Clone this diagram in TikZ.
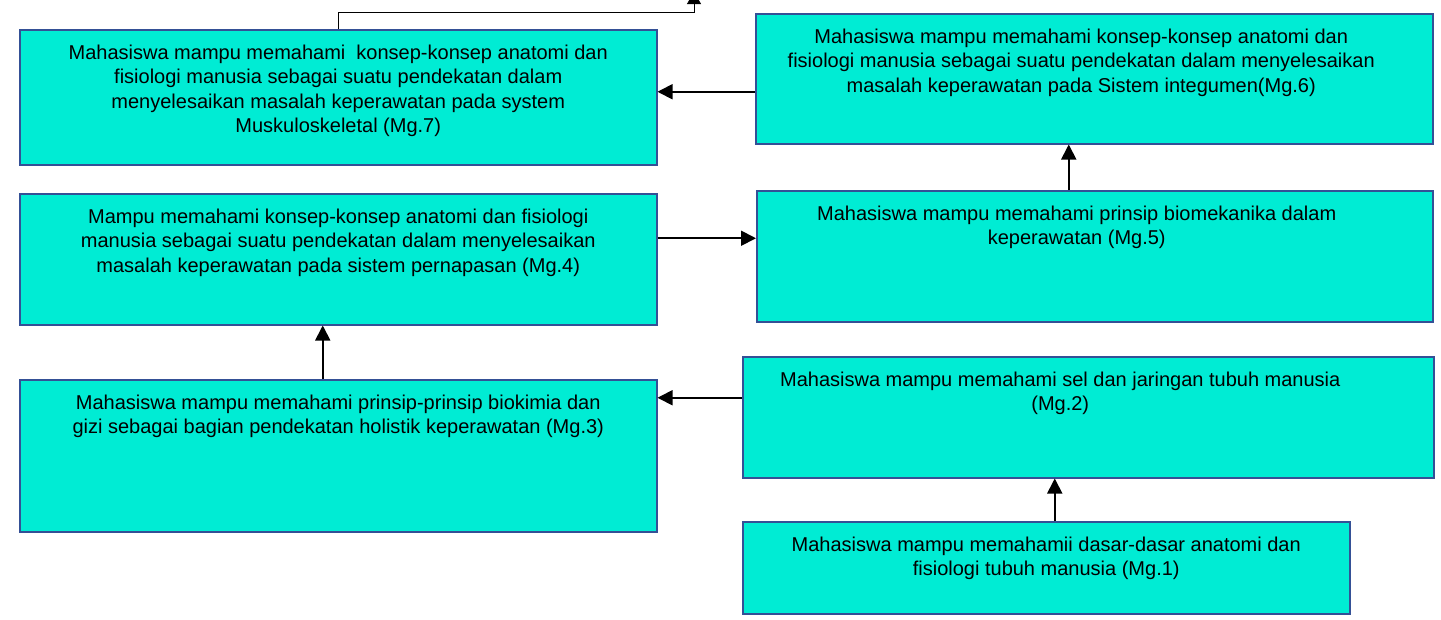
\documentclass[tikz,border=0pt]{standalone}
\usepackage{fontspec}
\setmainfont{Liberation Sans}
\usetikzlibrary{arrows.meta}

\definecolor{goalfill}{RGB}{0,236,212}
\definecolor{goalline}{RGB}{52,80,150}

% width, height, right offset, text
\newcommand{\goal}[4]{\parbox[t][#2][t]{#1}{\centering\rightskip=#3 plus 1fil\vspace*{15pt}#4}}

\begin{document}
\begin{tikzpicture}[x=1pt, y=-1pt,
    goalbox/.style={draw=goalline, line width=1.5pt, fill=goalfill, inner sep=0pt,
        anchor=north west, font=\fontsize{20}{24.5}\selectfont},
    flow/.style={-{Triangle[length=15pt,width=15pt]}, line width=1.8pt},
    link/.style={-{Triangle[length=12pt,width=14pt]}, line width=0.8pt}]
    \useasboundingbox (0,0) rectangle (1441,619);
    % --- Goals, left column ---
    \node[goalbox] (mg7) at (19,29) {\goal{637pt}{135pt}{0pt}{Mahasiswa mampu memahami\ \ konsep-konsep anatomi dan\\
        fisiologi manusia sebagai suatu pendekatan dalam\\
        menyelesaikan masalah keperawatan pada system\\
        Muskuloskeletal (Mg.7)}};
    \node[goalbox] (mg4) at (19,193) {\goal{637pt}{131pt}{0pt}{Mampu memahami konsep-konsep anatomi dan fisiologi\\
        manusia sebagai suatu pendekatan dalam menyelesaikan\\
        masalah keperawatan pada sistem pernapasan (Mg.4)}};
    \node[goalbox] (mg3) at (19,379) {\goal{637pt}{152pt}{0pt}{Mahasiswa mampu memahami prinsip-prinsip biokimia dan\\
        gizi sebagai bagian pendekatan holistik keperawatan (Mg.3)}};
    % --- Goals, right column ---
    \node[goalbox] (mg6) at (755,13) {\goal{677pt}{130pt}{26pt}{Mahasiswa mampu memahami konsep-konsep anatomi dan\\
        fisiologi manusia sebagai suatu pendekatan dalam menyelesaikan\\
        masalah keperawatan pada Sistem integumen(Mg.6)}};
    \node[goalbox] (mg5) at (756,190) {\goal{676pt}{131pt}{36pt}{Mahasiswa mampu memahami prinsip biomekanika dalam\\
        keperawatan (Mg.5)}};
    \node[goalbox] (mg2) at (742,356) {\goal{691pt}{121pt}{56pt}{Mahasiswa mampu memahami sel dan jaringan tubuh manusia\\
        (Mg.2)}};
    \node[goalbox] (mg1) at (742,521) {\goal{607pt}{92pt}{0pt}{Mahasiswa mampu memahamii dasar-dasar anatomi dan\\
        fisiologi tubuh manusia (Mg.1)}};
    % --- Arrows ---
    \draw[flow] ([xshift=8.5pt]mg1.north) -- ([xshift=8.5pt]mg1.north |- mg2.south);
    \draw[flow] ([yshift=19.5pt]mg2.west) -- ([yshift=19.5pt]mg2.west -| mg3.east);
    \draw[flow] ([xshift=-15.5pt]mg3.north) -- ([xshift=-15.5pt]mg3.north |- mg4.south);
    \draw[flow] ([yshift=21pt]mg4.east) -- ([yshift=21pt]mg4.east -| mg5.west);
    \draw[flow] ([xshift=-26pt]mg5.north) -- ([xshift=-26pt]mg5.north |- mg6.south);
    \draw[flow] ([yshift=-13pt]mg6.west) -- ([yshift=-13pt]mg6.west -| mg7.east);
    \coordinate (next) at (694,-8);
    \draw[link] (mg7.north) -- ++(0,-17) -| (next);
\end{tikzpicture}
\end{document}
